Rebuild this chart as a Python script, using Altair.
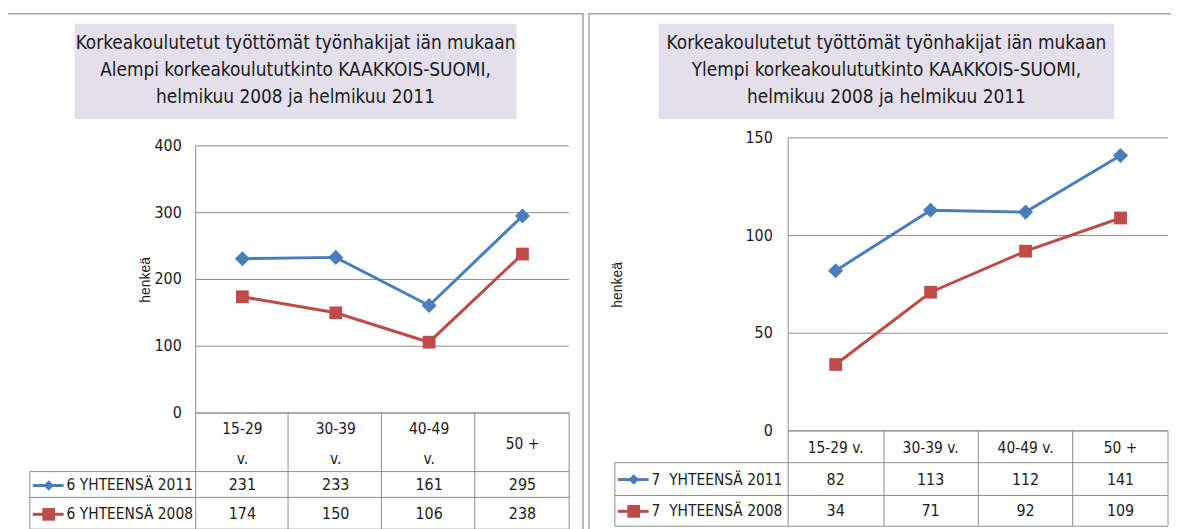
import altair as alt
import pandas as pd

# ---------------- data ----------------
categories = ["15-29 v.", "30-39 v.", "40-49 v.", "50 +"]
header_left = ["15-29\nv.", "30-39\nv.", "40-49\nv.", "50 +"]
header_right = ["15-29 v.", "30-39 v.", "40-49 v.", "50 +"]

left_2011 = [231, 233, 161, 295]
left_2008 = [174, 150, 106, 238]
right_2011 = [82, 113, 112, 141]
right_2008 = [34, 71, 92, 109]

left_series = ["6 YHTEENSÄ 2011", "6 YHTEENSÄ 2008"]
right_series = ["7\u00a0 YHTEENSÄ 2011", "7\u00a0 YHTEENSÄ 2008"]

left_title = ["Korkeakoulutetut työttömät työnhakijat iän mukaan",
              "Alempi korkeakoulututkinto KAAKKOIS-SUOMI,",
              "helmikuu 2008 ja helmikuu 2011"]
right_title = ["Korkeakoulutetut työttömät työnhakijat iän mukaan",
               "Ylempi korkeakoulututkinto KAAKKOIS-SUOMI,",
               "helmikuu 2008 ja helmikuu 2011"]

left_ticks = [0, 100, 200, 300, 400]
right_ticks = [0, 50, 100, 150]
y_title = "henkeä"

# ---------------- style ----------------
NARROW = "DejaVu Sans Condensed, Liberation Sans Narrow, sans-serif"
ARIAL = "Liberation Sans, Arial, sans-serif"
BLUE = "#4A7EBB"
RED = "#BE4B48"
GRID = "#8C8C8C"
FRAME = "#A6A6A6"
TITLE_BG = "#E4DFEC"
INK = "#1A1A1A"
OFF = 8  # page margin

W, H = 1171, 521
TITLE_FS = 19
TICK_FS = 16
TABLE_FS = 15.5


def sx(v):
    return v - OFF


def segs_layer(segs, color, width):
    df = pd.DataFrame([[sx(a), sx(b), sx(c), sx(d)] for a, b, c, d in segs],
                      columns=["x", "y", "x2", "y2"])
    return alt.Chart(df).mark_rule(color=color, strokeWidth=width).encode(
        x=alt.X("x:Q", scale=None), y=alt.Y("y:Q", scale=None),
        x2="x2:Q", y2="y2:Q")


def rect_layer(x0, y0, x1, y1, fill="transparent", stroke=None, sw=1):
    df = pd.DataFrame({"x": [sx(x0)], "y": [sx(y0)], "x2": [sx(x1)], "y2": [sx(y1)]})
    kw = {"fill": fill}
    if stroke is not None:
        kw["stroke"] = stroke
        kw["strokeWidth"] = sw
    return alt.Chart(df).mark_rect(**kw).encode(
        x=alt.X("x:Q", scale=None), y=alt.Y("y:Q", scale=None),
        x2="x2:Q", y2="y2:Q")


def panel(g, title, ticks, ymax, v2011, v2008, series, headers):
    layers = []
    xenc = alt.X("cat:N", sort=categories, axis=None,
                 scale=alt.Scale(type="point", domain=categories,
                                 range=[sx(g["x0"]), sx(g["x1"])], padding=0.5))

    def yenc(field):
        return alt.Y(field, axis=None,
                     scale=alt.Scale(domain=[0, ymax], range=[sx(g["y0"]), sx(g["ytop"])],
                                     nice=False, zero=True))

    # frame
    layers.append(rect_layer(g["fx0"], 12, g["fx1"], 700, stroke=FRAME, sw=1.5))
    # title box + title lines
    layers.append(rect_layer(g["tx0"], 22, g["tx1"], 118, fill=TITLE_BG))
    tdf = pd.DataFrame({"t": title, "ly": [sx(41 + 27.5 * i) for i in range(len(title))]})
    layers.append(alt.Chart(tdf).mark_text(font=NARROW, fontSize=TITLE_FS,
                                           align="center", baseline="middle",
                                           color=INK).encode(
        x=alt.value(sx((g["tx0"] + g["tx1"]) / 2)), y=alt.Y("ly:Q", scale=None),
        text="t:N"))
    # gridlines + tick labels
    gdf = pd.DataFrame({"tick": ticks})
    layers.append(alt.Chart(gdf).mark_rule(color=GRID, strokeWidth=1).encode(
        y=yenc("tick:Q"), x=alt.value(sx(g["x0"])), x2=alt.value(sx(g["x1"]))))
    layers.append(alt.Chart(gdf).mark_text(font=NARROW, fontSize=TICK_FS, align="right",
                                           baseline="middle", color=INK).encode(
        y=yenc("tick:Q"), x=alt.value(sx(g["tickx"])), text="tick:Q"))
    # y title
    ydf = pd.DataFrame({"t": [y_title]})
    layers.append(alt.Chart(ydf).mark_text(font=ARIAL, fontSize=14, angle=270,
                                           align="center", baseline="middle",
                                           color=INK).encode(
        x=alt.value(sx(g["ytx"])), y=alt.value(sx(g["yty"])), text="t:N"))
    # table lines
    cols = g["cols"]
    segs = [(g["x0"], g["ytop"], g["x0"], g["rows"][-1])]
    segs.append((g["x0"], g["y0"], g["x1"], g["y0"]))
    for c in cols[1:]:
        segs.append((c, g["y0"], c, g["rows"][-1]))
    for r in g["rows"][1:]:
        segs.append((g["lab0"], r, g["x1"], r))
    segs.append((g["lab0"], g["rows"][1], g["lab0"], g["rows"][-1]))
    layers.append(segs_layer(segs, GRID, 1))
    # column headers (one row per text line)
    hrows = []
    for cat, h in zip(categories, headers):
        parts = h.split("\n")
        n = len(parts)
        for i, p in enumerate(parts):
            hrows.append({"cat": cat, "h": p,
                          "ly": sx(g["hy"] - (n - 1) * g["hlh"] / 2 + i * g["hlh"])})
    hdf = pd.DataFrame(hrows)
    layers.append(alt.Chart(hdf).mark_text(font=NARROW, fontSize=TABLE_FS,
                                           align="center", baseline="middle",
                                           color=INK).encode(
        x=xenc, y=alt.Y("ly:Q", scale=None), text="h:N"))
    # data series
    for vals, color, shape, msize, ksize, name, rc in [
        (v2011, BLUE, "diamond", 230, 110, series[0], g["rc"][0]),
        (v2008, RED, "square", 165, 165, series[1], g["rc"][1]),
    ]:
        df = pd.DataFrame({"cat": categories, "value": vals})
        layers.append(alt.Chart(df).mark_line(color=color, strokeWidth=3).encode(
            x=xenc, y=yenc("value:Q")))
        layers.append(alt.Chart(df).mark_point(shape=shape, filled=True, opacity=1,
                                               size=msize, color=color).encode(
            x=xenc, y=yenc("value:Q")))
        layers.append(alt.Chart(df).mark_text(font=NARROW, fontSize=TABLE_FS + 0.5,
                                              align="center", baseline="middle",
                                              color=INK).encode(
            x=xenc, y=alt.value(sx(rc)), text="value:Q"))
        # legend key + row label
        kdf = pd.DataFrame({"s": [name]})
        layers.append(alt.Chart(kdf).mark_rule(color=color, strokeWidth=3).encode(
            x=alt.value(sx(g["key0"])), x2=alt.value(sx(g["key0"] + 31)),
            y=alt.value(sx(rc))))
        layers.append(alt.Chart(kdf).mark_point(shape=shape, filled=True, opacity=1,
                                                size=ksize, color=color).encode(
            x=alt.value(sx(g["key0"] + 16)), y=alt.value(sx(rc))))
        layers.append(alt.Chart(kdf).mark_text(font=NARROW, fontSize=TABLE_FS, align="left",
                                               baseline="middle", color=INK).encode(
            x=alt.value(sx(g["key0"] + 34)), y=alt.value(sx(rc)), text="s:N"))
    return layers


gL = dict(fx0=7, fx1=587, tx0=75, tx1=520, x0=197, x1=573, ytop=145, y0=414,
          tickx=183, ytx=147, yty=280, cols=[197, 290, 384, 478, 573],
          rows=[414, 473, 499, 531], lab0=30, hy=445, hlh=30, rc=[487, 516], key0=33)
gR = dict(fx0=593, fx1=1200, tx0=663, tx1=1122, x0=793.5, x1=1176, ytop=137, y0=432,
          tickx=778, ytx=622, yty=285, cols=[793.5, 890, 985, 1080, 1176],
          rows=[432, 464, 497, 528], lab0=619, hy=449, hlh=30, rc=[481, 513], key0=622)

layers = panel(gL, left_title, left_ticks, 400, left_2011, left_2008, left_series, header_left)
layers += panel(gR, right_title, right_ticks, 150, right_2011, right_2008, right_series, header_right)

chart = alt.layer(*layers).resolve_scale(x="independent", y="independent").properties(
    width=W, height=H, padding=0, autosize=alt.AutoSizeParams(type="none"),
    background="white"
).configure_view(stroke=None)

chart.save("out.html", embed_options={"renderer": "svg", "actions": False})
